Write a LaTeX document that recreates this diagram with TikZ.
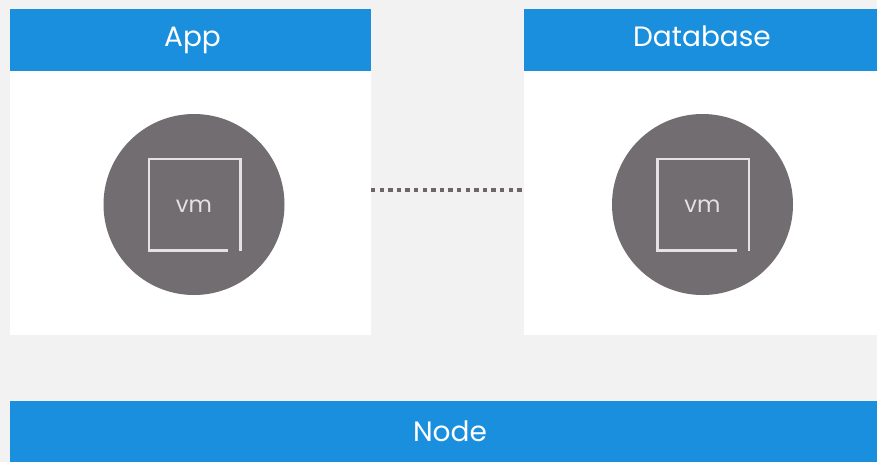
\documentclass[tikz,border=0pt]{standalone}
\usepackage{fontspec}
\setmainfont{Poppins}
\definecolor{bg}{HTML}{F2F2F2}
\definecolor{hdr}{HTML}{1A8FDD}
\definecolor{disc}{HTML}{716D70}
\definecolor{dots}{HTML}{6E6666}
\definecolor{vmtext}{HTML}{E4E2E4}
\tikzset{
  px/.style={x=0.75pt,y=-0.75pt},
  panel/.style={fill=white,draw=none,minimum width=361*0.75pt,minimum height=264*0.75pt,inner sep=0pt,outer sep=0pt},
  header/.style={fill=hdr,draw=none,inner sep=0pt,outer sep=0pt},
  title/.style={text=white,inner sep=0pt,anchor=base,font=\fontsize{21}{24}\selectfont},
  vmdisc/.style={circle,fill=disc,draw=none,minimum size=181*0.75pt,inner sep=0pt,outer sep=0pt},
  vmlabel/.style={text=vmtext,inner sep=0pt,anchor=base,font=\fontsize{17}{18}\selectfont},
  vmframe/.style={draw=vmtext,line width=1.9pt,line cap=butt},
  link/.style={draw=dots,line width=3pt,dash pattern=on 3.3pt off 3.15pt}
}
\begin{document}
\begin{tikzpicture}[px]
\useasboundingbox[fill=bg] (0,0) rectangle (877,462);
\node[panel,anchor=north west] (apppanel) at (10,71) {};
\node[panel,anchor=north west] (dbpanel) at (523.5,71) {};
\node[header,anchor=north west,minimum width=361*0.75pt,minimum height=62*0.75pt] (app) at (10,9) {};
\node[title] (applabel) at (192.5,46) {App};
\node[header,anchor=north west,minimum width=353.5*0.75pt,minimum height=62*0.75pt] (db) at (523.5,9) {};
\node[title] (dblabel) at (702,46) {Database};
\node[header,anchor=north west,minimum width=867*0.75pt,minimum height=61*0.75pt] (node) at (10,401) {};
\node[title] (nodelabel) at (450,441) {Node};
\node[vmdisc] (vm1) at (194,204.5) {};
\node[vmdisc] (vm2) at (702.5,204.5) {};
\node[vmlabel] (vmt1) at (194,212) {vm};
\node[vmlabel] (vmt2) at (702.5,212) {vm};
\draw[vmframe] (228,250.5) -- (149,250.5) -- (149,159) -- (240.3,159) -- (240.3,250.5);
\draw[vmframe] (736.5,250.5) -- (657.5,250.5) -- (657.5,159) -- (748.8,159) -- (748.8,250.5);
\coordinate (l1) at (371,190);
\coordinate (l2) at (524,190);
\draw[link] (l1) -- (l2);
\end{tikzpicture}
\end{document}
